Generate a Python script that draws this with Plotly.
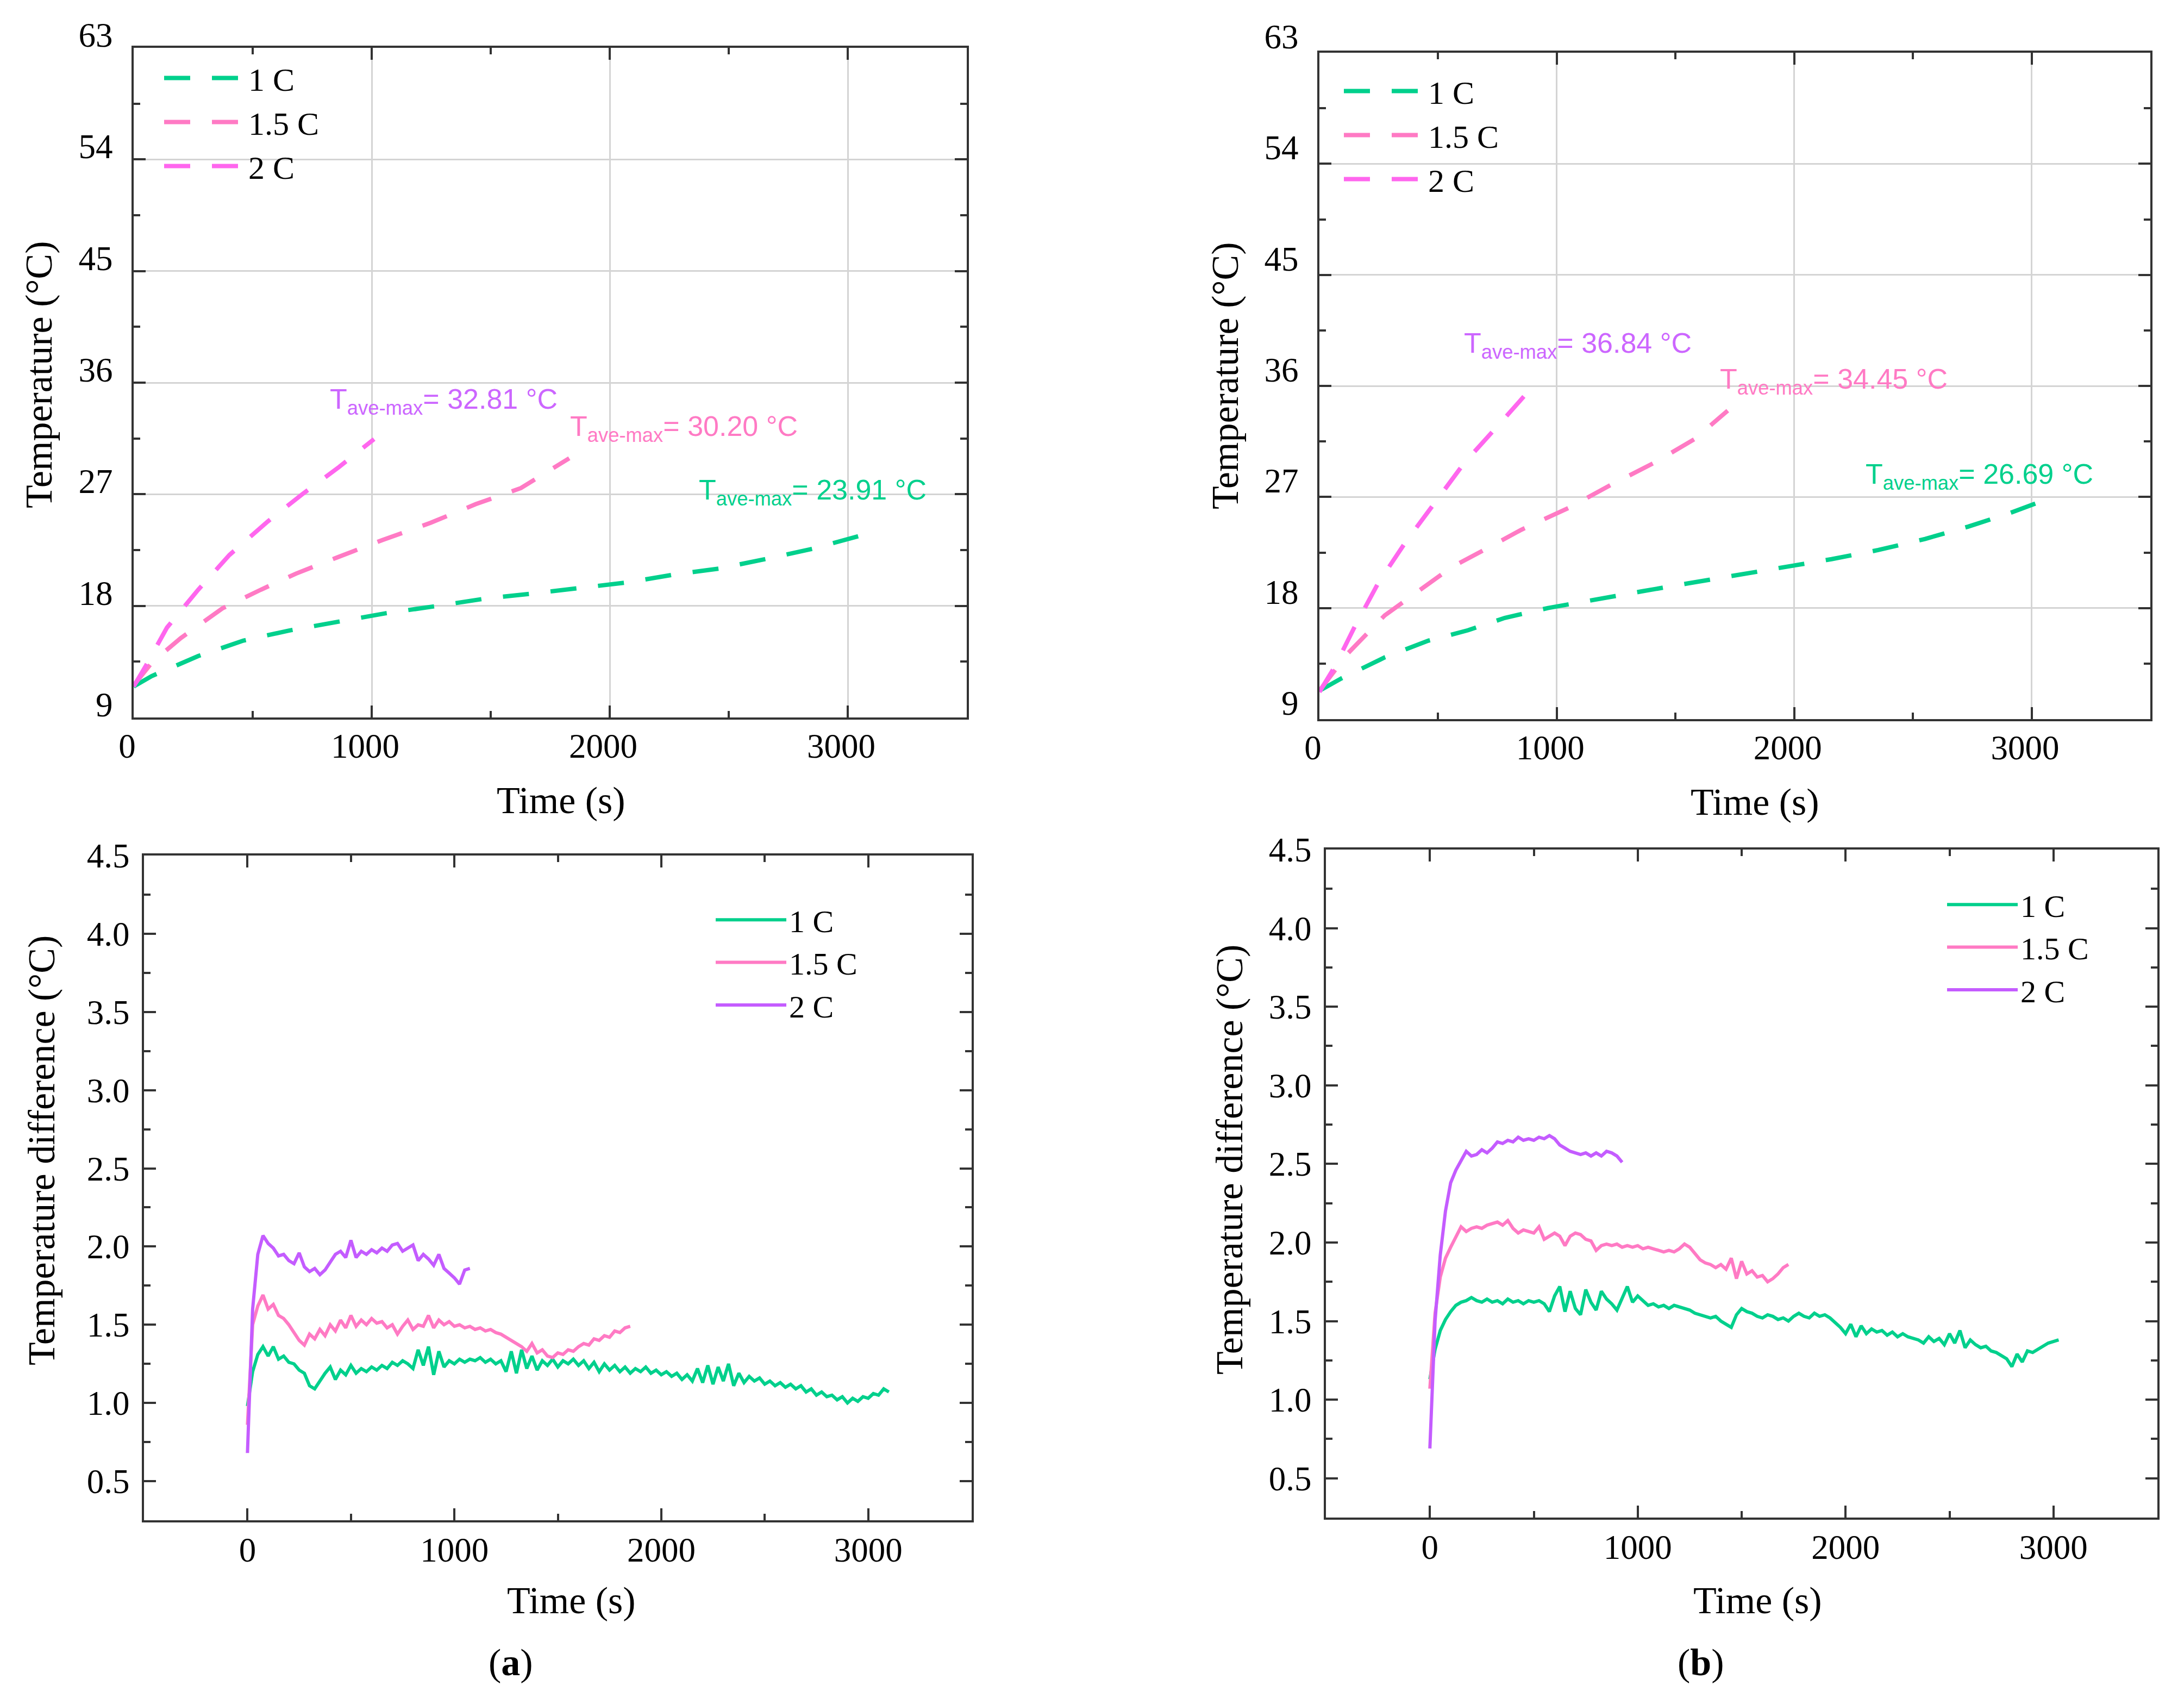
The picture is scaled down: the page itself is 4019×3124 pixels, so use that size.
import numpy as np
import plotly.graph_objects as go

W, H = 4019, 3124
OFF = 8  # page margin of the html body


def px(X):
    return (X - OFF) / W


def py(Y):
    return 1 - (Y - OFF) / H


# ---- top panels: average temperature (dashed) ----
# (a) 1 C / 1.5 C / 2 C
ta_1c = [0, 76, 271, 461, 650, 854, 1058, 1277, 1481, 1679, 1889, 2078, 2262, 2457, 2661, 2851, 3060]
Ta_1c = [11.5, 12.34, 13.95, 15.2, 16.0, 16.7, 17.4, 18.0, 18.6, 19.0, 19.5, 19.9, 20.5, 21.0, 21.8, 22.6, 23.7]
ta_15c = [0, 80, 198, 373, 534, 682, 854, 1044, 1248, 1437, 1627, 1830]
Ta_15c = [11.6, 13.5, 15.4, 17.8, 19.3, 20.6, 21.9, 23.3, 24.7, 26.2, 27.5, 29.9]
ta_2c = [0, 52, 140, 271, 402, 563, 708, 863, 1010]
Ta_2c = [11.5, 13.2, 16.25, 19.3, 22.1, 24.8, 27.0, 29.2, 31.45]

# (b)
tb_1c = [0, 93, 275, 458, 626, 781, 963, 1160, 1357, 1553, 1750, 1947, 2157, 2354, 2551, 2733, 2902, 3042]
Tb_1c = [11.3, 12.3, 14.0, 15.35, 16.2, 17.2, 18.0, 18.7, 19.35, 20.0, 20.65, 21.3, 21.96, 22.7, 23.6, 24.6, 25.65, 26.65]
tb_15c = [0, 121, 275, 430, 556, 683, 851, 1048, 1230, 1413, 1581, 1720]
Tb_15c = [11.3, 14.35, 17.4, 19.6, 21.3, 22.6, 24.35, 26.1, 28.0, 29.8, 31.7, 34.0]
tb_2c = [0, 65, 149, 247, 360, 486, 612, 753, 910]
Tb_2c = [11.2, 13.26, 16.5, 20.0, 23.26, 26.5, 29.8, 32.8, 36.2]

# annotation values (max average temperature) and label anchor (time, temp)
tmax_a = ["32.81", "30.20", "23.91"]
tmax_a_pos = [(820, 34.5), (1828, 32.3), (2370, 27.2)]
tmax_b = ["36.84", "34.45", "26.69"]
tmax_b_pos = [(605, 39.3), (1683, 36.4), (2297, 28.7)]

# ---- bottom panels: temperature difference, sampled every 25 s ----
DT = 25
dT_1c_a = [0.98, 1.20, 1.31, 1.36, 1.30, 1.36, 1.28, 1.30, 1.26, 1.25,
           1.21, 1.19, 1.11, 1.09, 1.14, 1.19, 1.23, 1.15, 1.21, 1.18,
           1.24, 1.19, 1.22, 1.20, 1.23, 1.21, 1.24, 1.22, 1.26, 1.24,
           1.27, 1.25, 1.22, 1.34, 1.24, 1.36, 1.18, 1.33, 1.23, 1.27,
           1.25, 1.28, 1.26, 1.28, 1.27, 1.29, 1.26, 1.28, 1.25, 1.27,
           1.20, 1.33, 1.19, 1.34, 1.22, 1.30, 1.21, 1.27, 1.24, 1.28,
           1.23, 1.27, 1.25, 1.28, 1.24, 1.27, 1.22, 1.26, 1.20, 1.25,
           1.21, 1.24, 1.20, 1.23, 1.19, 1.22, 1.20, 1.23, 1.19, 1.21,
           1.18, 1.20, 1.17, 1.19, 1.15, 1.18, 1.14, 1.22, 1.13, 1.24,
           1.12, 1.23, 1.14, 1.25, 1.11, 1.19, 1.13, 1.17, 1.14, 1.16,
           1.12, 1.14, 1.11, 1.13, 1.10, 1.12, 1.09, 1.11, 1.07, 1.09,
           1.05, 1.07, 1.04, 1.05, 1.02, 1.04, 1.00, 1.03, 1.01, 1.04,
           1.03, 1.06, 1.05, 1.09, 1.07]
dT_15c_a = [0.86, 1.50, 1.62, 1.69, 1.60, 1.63, 1.56, 1.54, 1.50, 1.45,
            1.40, 1.37, 1.44, 1.41, 1.47, 1.43, 1.50, 1.46, 1.53, 1.48,
            1.56, 1.49, 1.53, 1.50, 1.54, 1.51, 1.52, 1.48, 1.50, 1.44,
            1.49, 1.53, 1.47, 1.50, 1.49, 1.56, 1.48, 1.53, 1.50, 1.52,
            1.49, 1.50, 1.48, 1.49, 1.47, 1.48, 1.46, 1.47, 1.45, 1.44,
            1.42, 1.40, 1.38, 1.36, 1.33, 1.38, 1.32, 1.34, 1.30, 1.29,
            1.32, 1.31, 1.34, 1.33, 1.36, 1.38, 1.37, 1.41, 1.40, 1.43,
            1.42, 1.46, 1.45, 1.48, 1.49]
dT_2c_a = [0.68, 1.60, 1.95, 2.07, 2.02, 1.99, 1.94, 1.95, 1.91, 1.89,
           1.96, 1.87, 1.84, 1.86, 1.82, 1.85, 1.90, 1.95, 1.97, 1.93,
           2.04, 1.93, 1.97, 1.95, 1.98, 1.96, 1.99, 1.97, 2.01, 2.02,
           1.97, 1.99, 2.01, 1.91, 1.95, 1.92, 1.88, 1.95, 1.86, 1.83,
           1.80, 1.76, 1.85, 1.86]

dT_1c_b = [1.13, 1.32, 1.44, 1.51, 1.56, 1.60, 1.62, 1.63, 1.65, 1.63,
           1.62, 1.64, 1.62, 1.63, 1.61, 1.64, 1.62, 1.63, 1.61, 1.63,
           1.62, 1.63, 1.61, 1.56, 1.66, 1.72, 1.56, 1.69, 1.58, 1.54,
           1.70, 1.62, 1.57, 1.69, 1.64, 1.61, 1.57, 1.64, 1.72, 1.62,
           1.66, 1.63, 1.60, 1.61, 1.59, 1.60, 1.58, 1.60, 1.59, 1.58,
           1.57, 1.55, 1.54, 1.53, 1.52, 1.53, 1.50, 1.48, 1.46, 1.54,
           1.58, 1.56, 1.55, 1.53, 1.52, 1.54, 1.53, 1.51, 1.52, 1.50,
           1.53, 1.55, 1.53, 1.52, 1.55, 1.53, 1.54, 1.52, 1.49, 1.46,
           1.42, 1.48, 1.40, 1.47, 1.42, 1.45, 1.43, 1.44, 1.41, 1.43,
           1.40, 1.42, 1.40, 1.39, 1.38, 1.36, 1.40, 1.37, 1.39, 1.35,
           1.42, 1.36, 1.44, 1.33, 1.38, 1.35, 1.33, 1.34, 1.31, 1.30,
           1.28, 1.26, 1.21, 1.29, 1.24, 1.31, 1.30, 1.32, 1.34, 1.36,
           1.37, 1.38]
dT_15c_b = [1.07, 1.55, 1.78, 1.90, 1.97, 2.03, 2.10, 2.07, 2.09, 2.10,
            2.09, 2.11, 2.12, 2.13, 2.11, 2.14, 2.09, 2.06, 2.08, 2.07,
            2.06, 2.10, 2.02, 2.04, 2.06, 2.04, 1.98, 2.04, 2.06, 2.05,
            2.02, 2.01, 1.95, 1.98, 1.99, 1.98, 1.99, 1.97, 1.98, 1.97,
            1.98, 1.96, 1.97, 1.96, 1.95, 1.94, 1.95, 1.94, 1.96, 1.99,
            1.97, 1.93, 1.89, 1.87, 1.86, 1.84, 1.86, 1.83, 1.90, 1.77,
            1.88, 1.80, 1.82, 1.78, 1.79, 1.75, 1.77, 1.80, 1.84, 1.86]
dT_2c_b = [0.69, 1.50, 1.92, 2.20, 2.38, 2.46, 2.52, 2.58, 2.55, 2.56,
           2.59, 2.57, 2.60, 2.64, 2.63, 2.65, 2.64, 2.67, 2.65, 2.66,
           2.65, 2.67, 2.66, 2.68, 2.66, 2.62, 2.60, 2.58, 2.57, 2.56,
           2.57, 2.55, 2.57, 2.55, 2.58, 2.57, 2.55, 2.51]

labels = ["1 C", "1.5 C", "2 C"]
GREEN = "#00d08c"
PINK = "#ff7ac4"
MAGENTA = "#ff66ee"
PURPLE = "#c45cff"
ANN_PURPLE = "#cc66ff"

SERIF = "Liberation Serif"
SANS = "Liberation Sans"


def times(vals):
    return DT * np.arange(len(vals))


fig = go.Figure()

top_sets = [
    ("x", "y", "legend", [(ta_1c, Ta_1c), (ta_15c, Ta_15c), (ta_2c, Ta_2c)]),
    ("x2", "y2", "legend2", [(tb_1c, Tb_1c), (tb_15c, Tb_15c), (tb_2c, Tb_2c)]),
]
for xa, ya, lg, series in top_sets:
    for (t, T), name, col in zip(series, labels, [GREEN, PINK, MAGENTA]):
        fig.add_trace(go.Scatter(
            x=t, y=T, mode="lines", name=name, xaxis=xa, yaxis=ya, legend=lg,
            line=dict(color=col, width=8, dash="48px,40px"),
        ))

bottom_sets = [
    ("x3", "y3", "legend3", [dT_1c_a, dT_15c_a, dT_2c_a]),
    ("x4", "y4", "legend4", [dT_1c_b, dT_15c_b, dT_2c_b]),
]
for xa, ya, lg, series in bottom_sets:
    for vals, name, col in zip(series, labels, [GREEN, PINK, PURPLE]):
        fig.add_trace(go.Scatter(
            x=times(vals), y=vals, mode="lines", name=name, xaxis=xa, yaxis=ya,
            legend=lg, line=dict(color=col, width=6),
        ))

# T_ave-max labels
for xr, yr, vals, pos in [("x", "y", tmax_a, tmax_a_pos), ("x2", "y2", tmax_b, tmax_b_pos)]:
    for v, (tx, ty), col in zip(vals, pos, [ANN_PURPLE, PINK, GREEN]):
        fig.add_annotation(
            x=tx, y=ty, xref=xr, yref=yr, xanchor="left", yanchor="middle",
            text=f"T<sub>ave-max</sub>= {v} °C", showarrow=False,
            font=dict(family=SANS, size=52, color=col),
        )

# axis styling
def axis(domain, rng, tickvals, minor_dtick, grid, fmt=None, **kw):
    d = dict(
        domain=domain, range=rng, tickvals=tickvals, automargin=False,
        showline=True, mirror="allticks", linecolor="#333333", linewidth=4,
        ticks="inside", ticklen=22, tickwidth=4, tickcolor="#333333",
        minor=dict(ticks="inside", ticklen=12, tickwidth=4, tickcolor="#333333",
                   dtick=minor_dtick, showgrid=False),
        showgrid=grid, gridcolor="#d4d4d4", gridwidth=3, zeroline=False,
        tickfont=dict(family=SERIF, size=63, color="black"),
    )
    if fmt:
        d["tickformat"] = fmt
    d.update(kw)
    return d


xt_top = [0, 1000, 2000, 3000]
yt_top = [9, 18, 27, 36, 45, 54, 63]
yt_bot = [0.5, 1.0, 1.5, 2.0, 2.5, 3.0, 3.5, 4.0, 4.5]

fig.update_layout(
    xaxis=axis([px(246), px(1779)], [0, 3500], xt_top, 500, True,
               anchor="y", ticklabelstandoff=-6, ticklabelshift=-12),
    yaxis=axis([py(1320), py(88)], [9, 63], yt_top, 4.5, True,
               anchor="x", ticklabelstandoff=22, ticklabelshift=-24),
    xaxis2=axis([px(2428), px(3957)], [0, 3500], xt_top, 500, True,
                anchor="y2", ticklabelstandoff=-6, ticklabelshift=-12),
    yaxis2=axis([py(1323), py(97)], [9, 63], yt_top, 4.5, True,
                anchor="x2", ticklabelstandoff=22, ticklabelshift=-30),
    xaxis3=axis([px(265), px(1788)], [-500, 3500], xt_top, 500, False,
                anchor="y3", ticklabelstandoff=-4),
    yaxis3=axis([py(2797), py(1574)], [0.25, 4.5], yt_bot, 0.25, False,
                fmt=".1f", anchor="x3", ticklabelstandoff=10),
    xaxis4=axis([px(2440), px(3970)], [-500, 3500], xt_top, 500, False,
                anchor="y4", ticklabelstandoff=-4),
    yaxis4=axis([py(2792), py(1563)], [0.25, 4.5], yt_bot, 0.25, False,
                fmt=".1f", anchor="x4", ticklabelstandoff=10),
)

leg = dict(xanchor="left", yanchor="top", bgcolor="rgba(0,0,0,0)",
           tracegroupgap=0, traceorder="normal")
top_font = dict(family=SERIF, size=60, color="black")
bot_font = dict(family=SERIF, size=58, color="black")
fig.update_layout(
    legend=dict(leg, x=px(297), y=py(98), itemwidth=150, font=top_font),
    legend2=dict(leg, x=px(2468), y=py(122), itemwidth=150, font=top_font),
    legend3=dict(leg, x=px(1312), y=py(1648), itemwidth=130, font=bot_font),
    legend4=dict(leg, x=px(3578), y=py(1620), itemwidth=130, font=bot_font),
)

# axis titles and panel labels
titles = [
    ("Temperature (°C)", 72, 690, -90),
    ("Time (s)", 1032, 1472, 0),
    ("Temperature (°C)", 2254, 692, -90),
    ("Time (s)", 3229, 1476, 0),
    ("Temperature difference (°C)", 76, 2117, -90),
    ("Time (s)", 1051, 2944, 0),
    ("Temperature difference (°C)", 2262, 2134, -90),
    ("Time (s)", 3234, 2944, 0),
    ("(<b>a</b>)", 940, 3058, 0),
    ("(<b>b</b>)", 3130, 3058, 0),
]
for text, tx, ty, ang in titles:
    fig.add_annotation(
        x=px(tx), y=py(ty), xref="paper", yref="paper",
        xanchor="center", yanchor="middle", textangle=ang,
        text=text, showarrow=False,
        font=dict(family=SERIF, size=70, color="black"),
    )

fig.update_layout(
    width=W, height=H,
    margin=dict(l=0, r=0, t=0, b=0, autoexpand=False),
    paper_bgcolor="white", plot_bgcolor="white",
    showlegend=True,
)

fig.write_html("out.html")
